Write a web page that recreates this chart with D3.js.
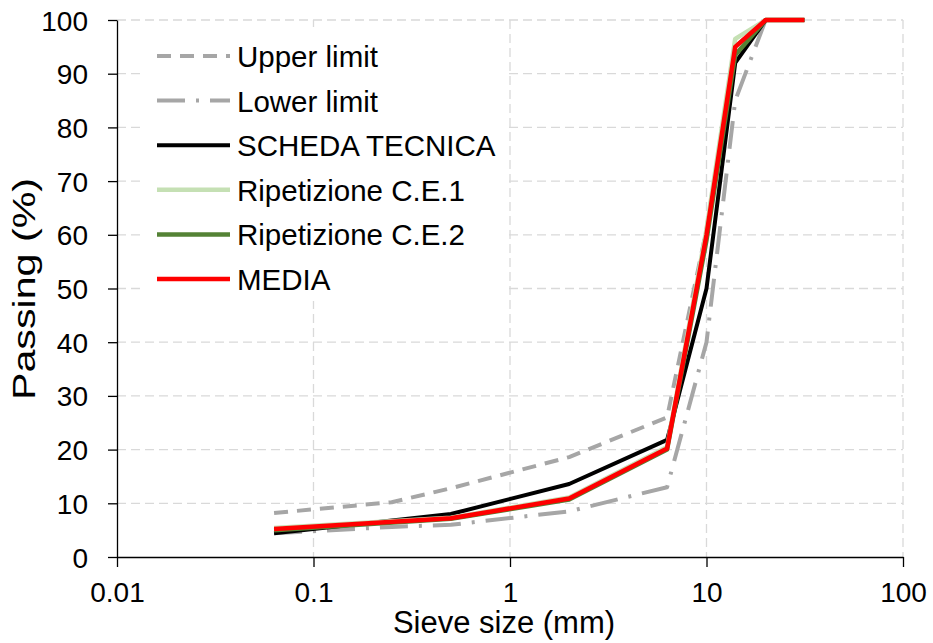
<!DOCTYPE html>
<html>
<head>
<meta charset="utf-8">
<script src="https://cdn.jsdelivr.net/npm/d3@7"></script>
<style>
  body { margin: 0; background: #fff; }
  svg { display: block; font-family: "Liberation Sans", Arial, sans-serif; }
</style>
</head>
<body>
<svg></svg>
<script>
// sieve sizes (mm)
let limitSieves = [0.063, 0.25, 0.5, 2, 6.3, 10, 14, 20, 31.5]
let sampleSieves = [0.063, 0.5, 2, 6.3, 10, 14, 20, 31.5]

// passing (%)
let upperLimit = [8.2, 10.2, 12.8, 18.6, 26, 61, 95, 100, 100]
let lowerLimit = [4.4, 5.6, 6.0, 8.5, 13, 40, 85, 100, 100]
let schedaTecnica = [4.4, 8.0, 13.6, 21.8, 50, 92, 100, 100]
let ripetizione1 = [5.4, 7.3, 11.1, 20.5, 61, 96.5, 100, 100]
let ripetizione2 = [5.0, 7.1, 10.7, 20.0, 59, 93.5, 100, 100]
let media = [5.2, 7.2, 10.9, 20.2, 60, 95, 100, 100]

let xTicks = [0.01, 0.1, 1, 10, 100]
let xTickLabels = ["0.01", "0.1", "1", "10", "100"]
let yTicks = [0, 10, 20, 30, 40, 50, 60, 70, 80, 90, 100]

let width = 933
let height = 643
let plotLeft = 117, plotRight = 903, plotTop = 20, plotBottom = 557

let svg = d3.select("svg")
  .attr("width", width)
  .attr("height", height)

let xScale = d3.scaleLog().domain([0.01, 100]).range([plotLeft, plotRight])
let yScale = d3.scaleLinear().domain([0, 100]).range([plotBottom, plotTop])

let series = [
  { name: "Upper limit", x: limitSieves, y: upperLimit, color: "#a6a6a6", w: 4, dash: "14,9" },
  { name: "Lower limit", x: limitSieves, y: lowerLimit, color: "#a6a6a6", w: 4, dash: "28,11,3,11" },
  { name: "SCHEDA TECNICA", x: sampleSieves, y: schedaTecnica, color: "#000000", w: 4, dash: null },
  { name: "Ripetizione C.E.1", x: sampleSieves, y: ripetizione1, color: "#c5e0b4", w: 4.5, dash: null },
  { name: "Ripetizione C.E.2", x: sampleSieves, y: ripetizione2, color: "#548235", w: 4.5, dash: null },
  { name: "MEDIA", x: sampleSieves, y: media, color: "#ff0000", w: 4.5, dash: null }
]

// gridlines
let grid = svg.append("g").attr("class", "grid")
grid.selectAll(".hgrid")
  .data(yTicks.filter(d => d > 0))
  .enter()
  .append("line")
  .attr("x1", plotLeft).attr("x2", plotRight)
  .attr("y1", d => yScale(d)).attr("y2", d => yScale(d))
  .attr("stroke", "#d9d9d9").attr("stroke-width", 1.3)
  .attr("stroke-dasharray", "9,5")

grid.selectAll(".vgrid")
  .data(xTicks.filter(d => d > 0.01))
  .enter()
  .append("line")
  .attr("x1", d => xScale(d)).attr("x2", d => xScale(d))
  .attr("y1", plotTop).attr("y2", plotBottom)
  .attr("stroke", "#d9d9d9").attr("stroke-width", 1.3)
  .attr("stroke-dasharray", "9,5")

// axes
let xAxis = d3.axisBottom(xScale)
  .tickValues(xTicks)
  .tickFormat((d, i) => xTickLabels[i])
  .tickSize(10)
  .tickSizeOuter(0)

let yAxis = d3.axisLeft(yScale)
  .tickValues(yTicks)
  .tickSize(9)
  .tickSizeOuter(0)

let gx = svg.append("g")
  .attr("transform", "translate(0," + plotBottom + ")")
  .call(xAxis)
gx.select(".domain").attr("stroke", "#000").attr("stroke-width", 1.3)
gx.selectAll(".tick line").attr("stroke", "#000").attr("stroke-width", 1.3)
gx.selectAll(".tick text")
  .attr("y", 45)
  .attr("dy", 0)
  .style("font-size", "28px")
  .style("font-family", "'Liberation Sans', Arial, sans-serif")
  .attr("fill", "#000")

let gy = svg.append("g")
  .attr("transform", "translate(" + plotLeft + ",0)")
  .call(yAxis)
gy.select(".domain").attr("stroke", "#000").attr("stroke-width", 1.3)
gy.selectAll(".tick line").attr("stroke", "#000").attr("stroke-width", 1.3)
gy.selectAll(".tick text")
  .attr("x", -29)
  .attr("dy", "0.36em")
  .style("font-size", "28px")
  .style("font-family", "'Liberation Sans', Arial, sans-serif")
  .attr("fill", "#000")

// axis titles
svg.append("text")
  .text("Sieve size (mm)")
  .attr("x", (plotLeft + plotRight) / 2 - 6)
  .attr("y", 633)
  .attr("text-anchor", "middle")
  .style("font-size", "31px")

svg.append("text")
  .text("Passing (%)")
  .attr("transform", "translate(35,289) rotate(-90)")
  .attr("text-anchor", "middle")
  .attr("textLength", 222)
  .attr("lengthAdjust", "spacingAndGlyphs")
  .style("font-size", "31px")

// curves
let line = d3.line()
  .x(d => xScale(d[0]))
  .y(d => yScale(d[1]))

svg.append("g")
  .selectAll("path")
  .data(series)
  .enter()
  .append("path")
  .attr("d", s => line(s.x.map((v, i) => [v, s.y[i]])))
  .attr("fill", "none")
  .attr("stroke", s => s.color)
  .attr("stroke-width", s => s.w)
  .attr("stroke-dasharray", s => s.dash)
  .attr("stroke-linejoin", "round")

// legend
let legend = svg.append("g")
legend.append("rect")
  .attr("x", 140).attr("y", 27)
  .attr("width", 366).attr("height", 274)
  .attr("fill", "#fff")

let rows = legend.selectAll(".item")
  .data(series)
  .enter()
  .append("g")
  .attr("transform", (d, i) => "translate(157," + (56 + i * 44.6) + ")")

rows.append("line")
  .attr("x1", 0).attr("x2", 73)
  .attr("y1", 0).attr("y2", 0)
  .attr("stroke", d => d.color)
  .attr("stroke-width", d => d.w)
  .attr("stroke-dasharray", d => d.dash)

rows.append("text")
  .text(d => d.name)
  .attr("x", 80)
  .attr("dy", "0.37em")
  .style("font-size", "29.5px")
</script>
</body>
</html>
